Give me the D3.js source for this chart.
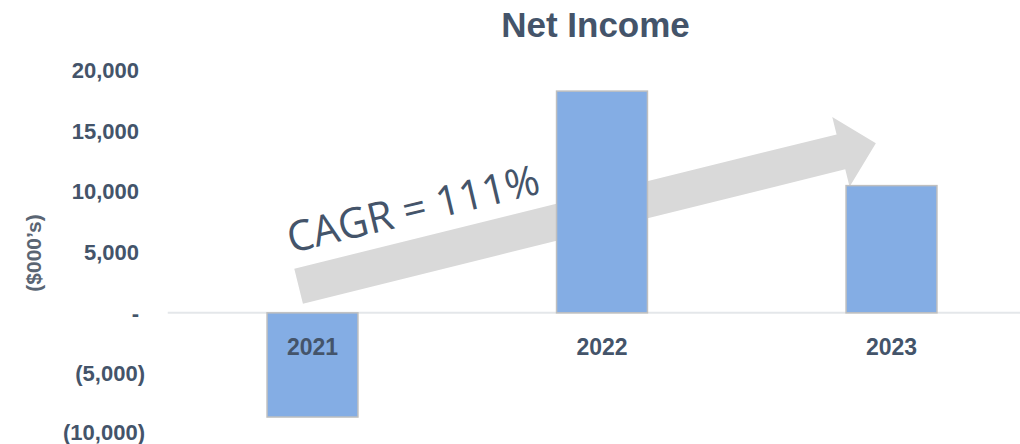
<!DOCTYPE html>
<html>
<head>
<meta charset="utf-8">
<script src="https://cdn.jsdelivr.net/npm/d3@7"></script>
<style>
  html, body { margin: 0; padding: 0; background: #fff; }
  svg { display: block; }
</style>
</head>
<body>
<svg id="chart" width="1020" height="444"></svg>
<script>
const years = ['2021', '2022', '2023'];
const netIncome = [-8600, 18300, 10500];
const yTicks = [-10000, -5000, 0, 5000, 10000, 15000, 20000];
const chartTitle = 'Net Income';
const axisTitle = '($000\u2019s)';
const cagrLabel = 'CAGR = 111%';
// arrow anchors in chart units: [category, offset in bands, value]
const arrowFrom = ['2021', -0.048, 2200];
const arrowTo = ['2023', -0.054, 14000];

const textColor = '#44546a';
const svg = d3.select('#chart');

const x = d3.scaleBand().domain(years).range([167.75, 1036.25]).paddingInner(0.686).paddingOuter(0.343);
const y = d3.scaleLinear().domain([-10000, 20000]).range([434, 70.5]);
const step = x.step();
const cx = d => x(d) + x.bandwidth() / 2;

// title
svg.append('text')
  .attr('x', 595.5).attr('y', 37)
  .attr('text-anchor', 'middle')
  .attr('font-family', 'Liberation Sans, Arial, sans-serif')
  .attr('font-weight', 'bold')
  .attr('font-size', 35)
  .attr('fill', textColor)
  .text(chartTitle);

// y tick labels
const fmt = d3.format(',');
svg.append('g').selectAll('text')
  .data(yTicks)
  .enter()
  .append('text')
  .attr('x', d => d < 0 ? 145 : 139)
  .attr('y', d => y(d))
  .attr('dy', d => d === -10000 ? '0.26em' : '0.35em')
  .attr('text-anchor', 'end')
  .attr('font-family', 'Liberation Sans, Arial, sans-serif')
  .attr('font-weight', 'bold')
  .attr('font-size', 22)
  .attr('fill', textColor)
  .text(d => d === 0 ? '-' : d < 0 ? `(${fmt(-d)})` : fmt(d));

// y axis title
svg.append('text')
  .attr('transform', `translate(41,253) rotate(-90)`)
  .attr('text-anchor', 'middle')
  .attr('font-family', 'Liberation Sans, Arial, sans-serif')
  .attr('font-weight', 'bold')
  .attr('font-size', 21)
  .attr('fill', '#5a6573')
  .text(axisTitle);

// zero line
svg.append('line')
  .attr('x1', x.range()[0]).attr('x2', 1020)
  .attr('y1', y(0)).attr('y2', y(0))
  .attr('stroke', '#e4e7ea')
  .attr('stroke-width', 2);

// arrow
const p0 = [cx(arrowFrom[0]) + arrowFrom[1] * step, y(arrowFrom[2])];
const p1 = [cx(arrowTo[0]) + arrowTo[1] * step, y(arrowTo[2])];
const len = Math.hypot(p1[0] - p0[0], p1[1] - p0[1]);
const ang = Math.atan2(p1[1] - p0[1], p1[0] - p0[0]) * 180 / Math.PI;
const shaft = 18, head = 36, headLen = 36;
svg.append('path')
  .attr('transform', `translate(${p0[0]},${p0[1]}) rotate(${ang})`)
  .attr('d', `M0,${-shaft}L${len - headLen},${-shaft}L${len - headLen},${-head}L${len},0L${len - headLen},${head}L${len - headLen},${shaft}L0,${shaft}Z`)
  .attr('fill', '#d9d9d9');

// bars
svg.append('g').selectAll('rect')
  .data(years.map((d, i) => ({ year: d, value: netIncome[i] })))
  .enter()
  .append('rect')
  .attr('x', d => x(d.year))
  .attr('y', d => y(Math.max(0, d.value)))
  .attr('width', x.bandwidth())
  .attr('height', d => Math.abs(y(d.value) - y(0)))
  .attr('fill', '#84ade4')
  .attr('stroke', '#bfbfbf')
  .attr('stroke-width', 1.5);

// category labels
svg.append('g').selectAll('text')
  .data(years)
  .enter()
  .append('text')
  .attr('x', d => cx(d))
  .attr('y', 355)
  .attr('text-anchor', 'middle')
  .attr('font-family', 'Liberation Sans, Arial, sans-serif')
  .attr('font-weight', 'bold')
  .attr('font-size', 23)
  .attr('fill', textColor)
  .text(d => d);

// CAGR annotation
svg.append('text')
  .attr('transform', `translate(291,253) rotate(${ang + 0.5})`)
  .attr('font-family', 'Open Sans, sans-serif')
  .attr('font-size', 42)
  .attr('textLength', 258)
  .attr('lengthAdjust', 'spacingAndGlyphs')
  .attr('fill', textColor)
  .text(cagrLabel);
</script>
</body>
</html>
